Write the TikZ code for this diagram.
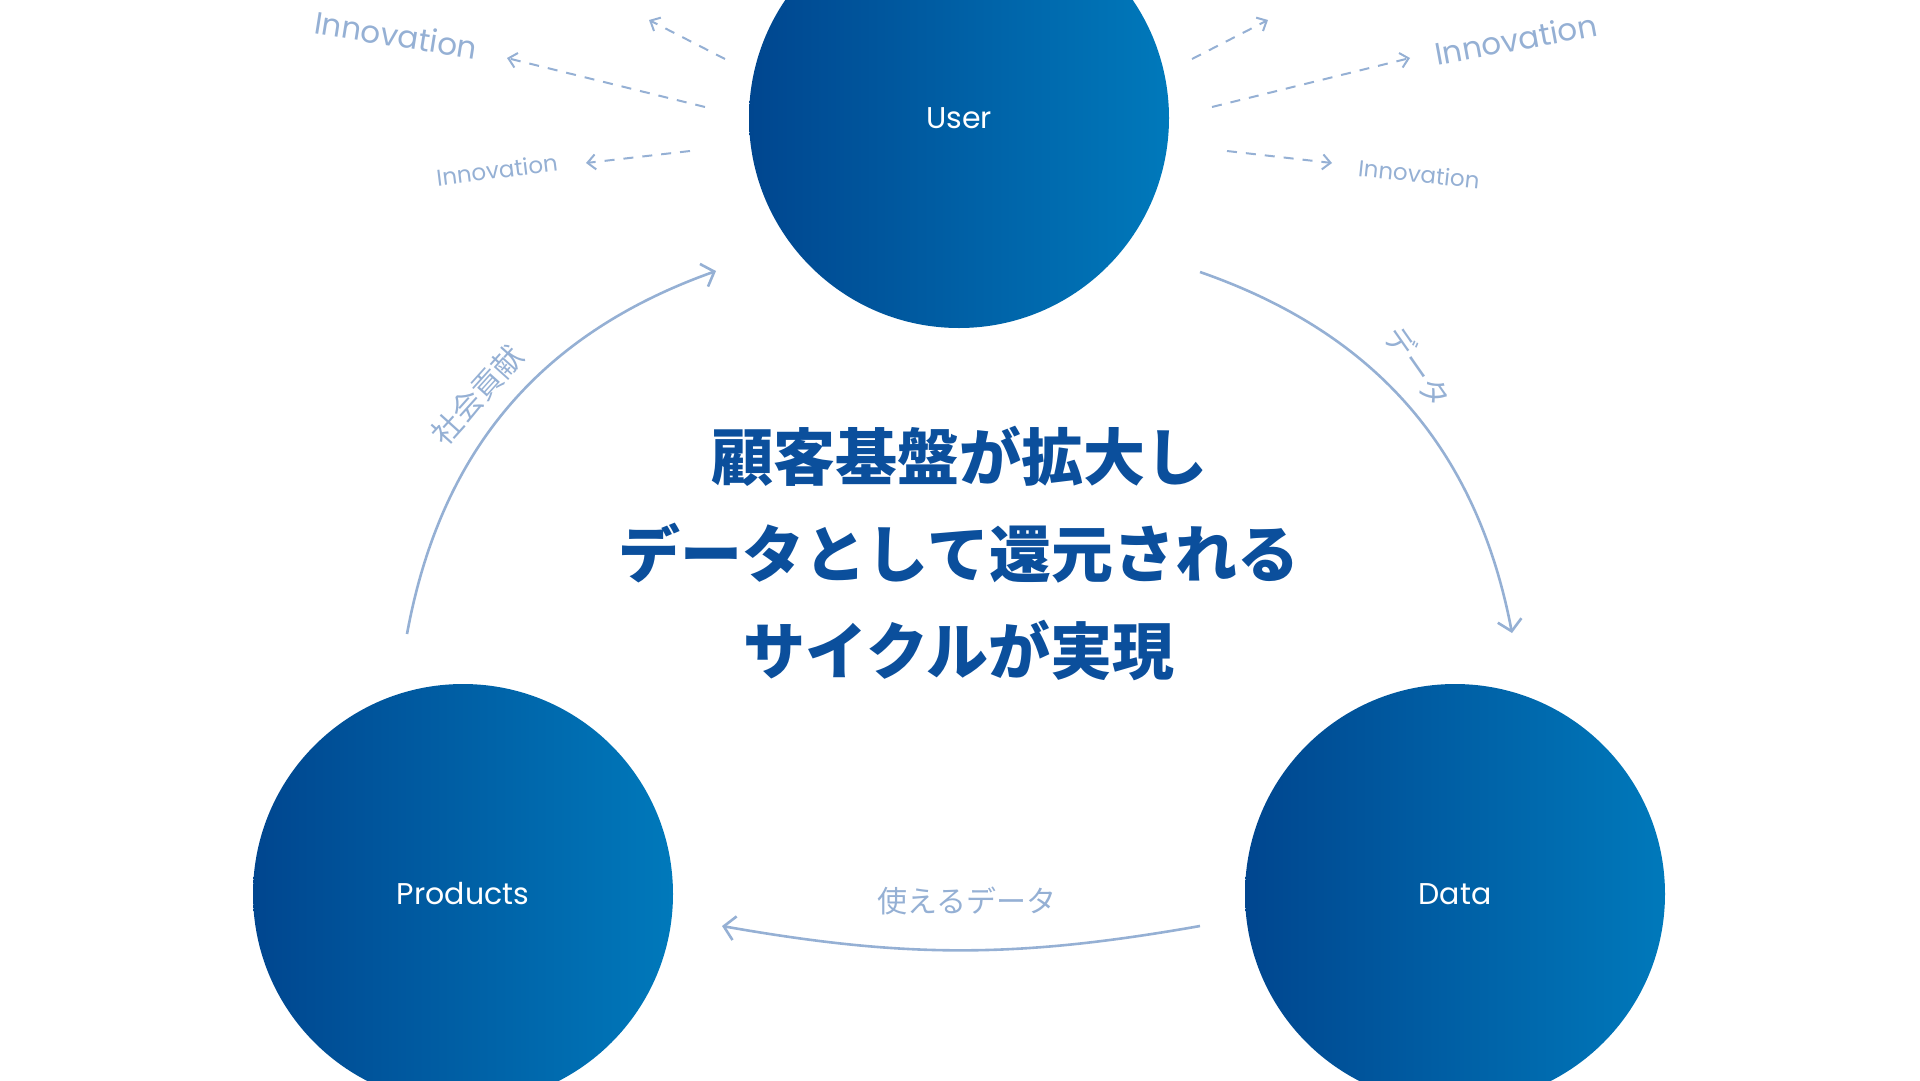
\documentclass[tikz,border=0pt]{standalone}
\usepackage{fontspec}
\setmainfont{Poppins}
\newfontfamily\jpfont{Noto Sans CJK JP}
\usetikzlibrary{arrows.meta}

\definecolor{circdark}{HTML}{00468F}
\definecolor{circlight}{HTML}{0079BB}
\definecolor{deepblue}{HTML}{0B4F9C}
\definecolor{paleblue}{HTML}{95B0D4}

\tikzset{
  hub/.style={circle,minimum size=420pt,inner sep=0pt,left color=circdark,right color=circlight,
    text=white,font=\fontsize{30}{36}\selectfont},
  flow/.style={draw=paleblue,line width=2.6pt,-{Straight Barb[length=11pt,width=24pt]}},
  spark/.style={draw=paleblue,line width=2pt,dash pattern=on 10pt off 9pt,-{Straight Barb[length=8pt,width=15pt]}},
  innov/.style={text=paleblue,font=\fontsize{31}{36}\selectfont},
  innovsmall/.style={text=paleblue,font=\fontsize{23}{28}\selectfont},
  arclabel/.style={text=paleblue,font=\jpfont\fontsize{30}{36}\selectfont}
}

\begin{document}
\begin{tikzpicture}[x=1pt,y=-1pt]
\useasboundingbox (0,0) rectangle (1920,1080);
\node[hub] (user) at (959,118) {User};
\node[hub] (products) at (463,894) {Products};
\node[hub] (data) at (1455,894) {Data};

% message in the middle
\node[text=deepblue,font=\jpfont\bfseries\fontsize{62}{97}\selectfont,align=center] (cycle) at (959,553)
  {顧客基盤が拡大し\\データとして還元される\\サイクルが実現};

% the cycle
\coordinate (ud-a) at (1200,272);
\coordinate (ud-b) at (1512,633);
\coordinate (dp-a) at (1200,926);
\coordinate (dp-b) at (722,926);
\coordinate (pu-a) at (407,634);
\coordinate (pu-b) at (716,271);
\draw[flow] (ud-a) to[bend left=30] (ud-b);
\draw[flow] (dp-a) to[bend left=10] (dp-b);
\draw[flow] (pu-a) to[bend left=30] (pu-b);
\node[arclabel,rotate=-55] (lbl-data) at (1418,367) {データ};
\node[arclabel] (lbl-use) at (967,901) {使えるデータ};
\node[arclabel,rotate=48] (lbl-social) at (477,395) {社会貢献};

% innovation sparks
\coordinate (sp1-a) at (725,59);
\coordinate (sp1-b) at (649,20);
\coordinate (sp2-a) at (705,107);
\coordinate (sp2-b) at (507,58);
\coordinate (sp3-a) at (690,151);
\coordinate (sp3-b) at (586,163);
\coordinate (sp4-a) at (1192,59);
\coordinate (sp4-b) at (1268,20);
\coordinate (sp5-a) at (1212,107);
\coordinate (sp5-b) at (1410,58);
\coordinate (sp6-a) at (1227,151);
\coordinate (sp6-b) at (1332,163);
\draw[spark] (sp1-a) -- (sp1-b);
\draw[spark] (sp2-a) -- (sp2-b);
\draw[spark] (sp3-a) -- (sp3-b);
\draw[spark] (sp4-a) -- (sp4-b);
\draw[spark] (sp5-a) -- (sp5-b);
\draw[spark] (sp6-a) -- (sp6-b);
\node[innov,rotate=-9] (inv-tl) at (396,35) {Innovation};
\node[innovsmall,rotate=7] (inv-bl) at (497,170) {Innovation};
\node[innov,rotate=10.5] (inv-tr) at (1516,39) {Innovation};
\node[innovsmall,rotate=-6] (inv-br) at (1419,174) {Innovation};
\end{tikzpicture}
\end{document}
